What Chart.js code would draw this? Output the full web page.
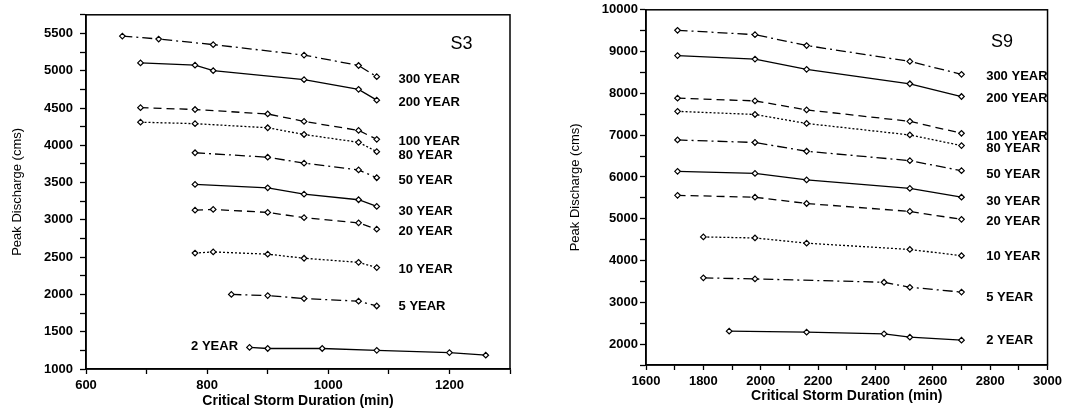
<!DOCTYPE html>
<html>
<head>
<meta charset="utf-8">
<script src="https://cdn.jsdelivr.net/npm/chart.js@4/dist/chart.umd.min.js"></script>
<style>
  body { margin: 0; background: #fff; }
  .box { position: absolute; top: 0; height: 410px; }
  #leftBox { left: 0; width: 530px; }
  #rightBox { left: 530px; width: 536px; }
</style>
</head>
<body>
<div class="box" id="leftBox"><canvas id="s3Canvas"></canvas></div>
<div class="box" id="rightBox"><canvas id="s9Canvas"></canvas></div>
<script>
const periods = ["300 YEAR", "200 YEAR", "100 YEAR", "80 YEAR", "50 YEAR",
  "30 YEAR", "20 YEAR", "10 YEAR", "5 YEAR", "2 YEAR"];

// S3 - critical storm duration (min) and peak discharge (cms)
const s3Duration = [
  [660, 720, 810, 960, 1050, 1080],
  [690, 780, 810, 960, 1050, 1080],
  [690, 780, 900, 960, 1050, 1080],
  [690, 780, 900, 960, 1050, 1080],
  [780, 900, 960, 1050, 1080],
  [780, 900, 960, 1050, 1080],
  [780, 810, 900, 960, 1050, 1080],
  [780, 810, 900, 960, 1050, 1080],
  [840, 900, 960, 1050, 1080],
  [870, 900, 990, 1080, 1200, 1260],
];
const s3Discharge = [
  [5465, 5425, 5350, 5210, 5070, 4920],
  [5105, 5075, 5000, 4880, 4750, 4605],
  [4505, 4480, 4420, 4320, 4200, 4080],
  [4310, 4290, 4235, 4145, 4040, 3915],
  [3900, 3840, 3760, 3670, 3565],
  [3475, 3430, 3345, 3270, 3180],
  [3130, 3140, 3100, 3030, 2960, 2875],
  [2555, 2570, 2540, 2485, 2430, 2360],
  [2000, 1985, 1945, 1910, 1845],
  [1290, 1275, 1275, 1250, 1220, 1185],
];

// S9
const s9Duration = [
  [1710, 1980, 2160, 2520, 2700],
  [1710, 1980, 2160, 2520, 2700],
  [1710, 1980, 2160, 2520, 2700],
  [1710, 1980, 2160, 2520, 2700],
  [1710, 1980, 2160, 2520, 2700],
  [1710, 1980, 2160, 2520, 2700],
  [1710, 1980, 2160, 2520, 2700],
  [1800, 1980, 2160, 2520, 2700],
  [1800, 1980, 2430, 2520, 2700],
  [1890, 2160, 2430, 2520, 2700],
];
const s9Discharge = [
  [9510, 9405, 9145, 8765, 8455],
  [8905, 8820, 8575, 8230, 7925],
  [7885, 7820, 7605, 7330, 7045],
  [7570, 7495, 7280, 7005, 6750],
  [6885, 6825, 6615, 6390, 6150],
  [6135, 6085, 5930, 5725, 5515],
  [5560, 5515, 5365, 5175, 4985],
  [4565, 4540, 4415, 4265, 4115],
  [3585, 3560, 3480, 3360, 3245],
  [2310, 2285, 2245, 2165, 2095],
];

// where the period labels sit (data units)
const s3LabelX = [1116, 1116, 1116, 1116, 1116, 1116, 1116, 1116, 1116, 851];
const s3LabelY = [4888, 4581, 4056, 3859, 3523, 3116, 2842, 2336, 1837, 1298];
const s9LabelX = [2786, 2786, 2786, 2786, 2786, 2786, 2786, 2786, 2786, 2786];
const s9LabelY = [8415, 7876, 6966, 6688, 6056, 5421, 4930, 4091, 3124, 2095];

const dashes = [[10, 4, 2, 4], [], [8, 5], [2, 2]];

Chart.defaults.font.family = "'Liberation Sans', Arial, sans-serif";
Chart.defaults.color = "#000";

const labelPlugin = {
  id: "periodLabels",
  afterDatasetsDraw(chart, args, opts) {
    const { ctx, chartArea } = chart;
    const xs = chart.scales.x;
    const ys = chart.scales.y;
    ctx.save();
    ctx.strokeStyle = "#000";
    ctx.lineWidth = 1.5;
    ctx.strokeRect(chartArea.left, chartArea.top,
      chartArea.right - chartArea.left, chartArea.bottom - chartArea.top);
    ctx.fillStyle = "#000";
    ctx.textBaseline = "middle";
    ctx.font = "bold 13px 'Liberation Sans', Arial, sans-serif";
    periods.forEach((p, i) => {
      const first = chart.data.datasets[i].data[0].x;
      ctx.textAlign = opts.labelX[i] < first ? "right" : "left";
      ctx.fillText(p, xs.getPixelForValue(opts.labelX[i]), ys.getPixelForValue(opts.labelY[i]));
    });
    ctx.font = "18px 'Liberation Sans', Arial, sans-serif";
    ctx.textAlign = "center";
    ctx.fillText(opts.site, xs.getPixelForValue(opts.siteX), ys.getPixelForValue(opts.siteY));
    ctx.restore();
  },
};

function makeChart(canvas, durations, discharges, cfg) {
  const datasets = periods.map((p, i) => ({
    label: p,
    data: durations[i].map((d, j) => ({ x: d, y: discharges[i][j] })),
    borderColor: "#000",
    borderWidth: 1.3,
    borderDash: dashes[i % 4],
    pointStyle: "rectRot",
    pointRadius: 2.8,
    pointBorderWidth: 1.2,
    pointBorderColor: "#000",
    pointBackgroundColor: "#fff",
    tension: 0,
  }));

  return new Chart(canvas, {
    type: "line",
    data: { datasets },
    plugins: [labelPlugin],
    options: {
      responsive: true,
      maintainAspectRatio: false,
      animation: false,
      layout: { padding: { top: 7, right: cfg.padRight, left: 0, bottom: 0 } },
      plugins: {
        legend: { display: false },
        tooltip: { enabled: false },
        periodLabels: cfg.labels,
      },
      scales: {
        x: {
          type: "linear",
          min: cfg.xMin,
          max: cfg.xMax,
          afterFit: (s) => { s.height = cfg.xHeight; },
          border: { display: true, color: "#000", width: 1.5 },
          grid: { drawOnChartArea: false, drawTicks: true, tickLength: 5, color: "#000", tickWidth: 1.3 },
          ticks: {
            stepSize: 100,
            autoSkip: false,
            maxRotation: 0,
            padding: 4,
            font: { size: 13, weight: "bold" },
            callback: (v) => (v % 200 === 0 ? v : ""),
          },
          title: {
            display: true,
            text: "Critical Storm Duration (min)",
            font: { size: 14, weight: "bold" },
            padding: { top: 0, bottom: cfg.xTitlePad },
          },
        },
        y: {
          min: cfg.yMin,
          max: cfg.yMax,
          afterFit: (s) => { s.width = cfg.yWidth; },
          border: { display: true, color: "#000", width: 1.5 },
          grid: { drawOnChartArea: false, drawTicks: true, tickLength: 6, color: "#000", tickWidth: 1.3 },
          ticks: {
            stepSize: cfg.yStep,
            autoSkip: false,
            padding: cfg.yTickPad,
            font: { size: 13, weight: "bold" },
            callback: (v) => (v % (cfg.yStep * 2) === 0 ? v : ""),
          },
          title: {
            display: true,
            text: "Peak Discharge (cms)",
            font: { size: 13 },
            padding: { top: cfg.yTitlePad, bottom: 0 },
          },
        },
      },
    },
  });
}

const s3Chart = makeChart(document.querySelector("#s3Canvas"), s3Duration, s3Discharge, {
  xMin: 600, xMax: 1300, yMin: 1000, yMax: 5750, yStep: 250,
  padRight: 20, xHeight: 41, yWidth: 86, yTickPad: 7, xTitlePad: 0, yTitlePad: 10,
  labels: { labelX: s3LabelX, labelY: s3LabelY, site: "S3", siteX: 1220, siteY: 5352 },
});

const s9Chart = makeChart(document.querySelector("#s9Canvas"), s9Duration, s9Discharge, {
  xMin: 1600, xMax: 3000, yMin: 1500, yMax: 10000, yStep: 500,
  padRight: 14, xHeight: 45, yWidth: 116, yTickPad: 2, xTitlePad: 5, yTitlePad: 38,
  labels: { labelX: s9LabelX, labelY: s9LabelY, site: "S9", siteX: 2841, siteY: 9223 },
});
</script>
</body>
</html>
